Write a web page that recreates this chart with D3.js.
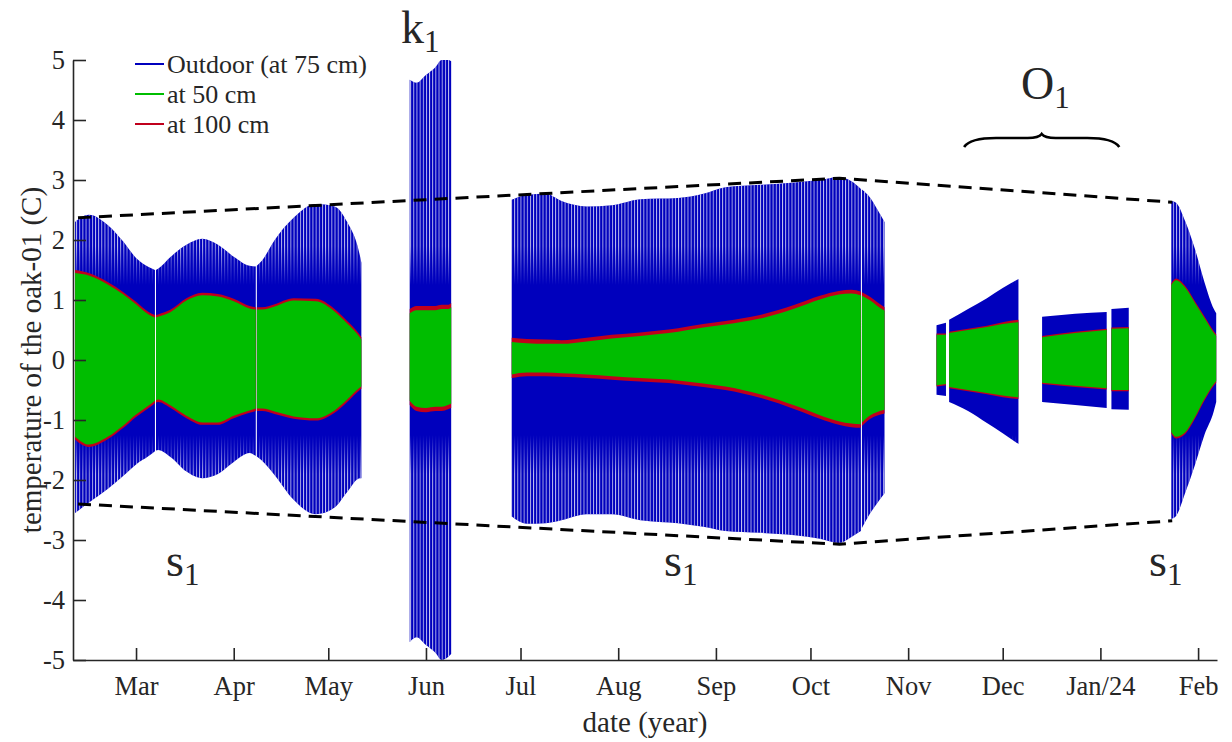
<!DOCTYPE html>
<html>
<head>
<meta charset="utf-8">
<script src="https://cdn.jsdelivr.net/npm/d3@7"></script>
<style>
  body { margin: 0; background: #fff; }
  svg text { font-family: "Liberation Serif", "Times New Roman", serif; fill: #262626; }
</style>
</head>
<body>
<div id="chart"></div>
<script>
// Oak-01 stem temperature, envelopes of the daily oscillation
// null rows split the record into its measured pieces

const dates = [
  // s1, Feb - May
  "2023-02-09T16:00", "2023-02-14", "2023-02-20", "2023-02-25", "2023-03-01", "2023-03-05", "2023-03-07", null,
  "2023-03-07T08:00", "2023-03-08", "2023-03-12", "2023-03-17", "2023-03-22", "2023-03-27", "2023-04-01", "2023-04-06", "2023-04-08", null,
  "2023-04-08T08:00", "2023-04-10", "2023-04-14", "2023-04-20", "2023-04-27", "2023-05-03", "2023-05-07", "2023-05-11", "2023-05-11T12:00", null,
  // k1, June
  "2023-05-26T20:00", "2023-05-29", "2023-06-01", "2023-06-04", "2023-06-06", "2023-06-08", "2023-06-09", null,
  // s1, Jul - Oct
  "2023-06-28T05:00", "2023-07-03", "2023-07-09", "2023-07-14", "2023-07-22", "2023-07-30", "2023-08-08", "2023-08-20",
  "2023-08-28", "2023-09-04", "2023-09-15", "2023-09-26", "2023-10-04", "2023-10-10", "2023-10-14", "2023-10-17", null,
  "2023-10-17T08:00", "2023-10-20", "2023-10-22", "2023-10-24T12:00", null,
  // O1, Nov - Jan
  "2023-11-10", "2023-11-13", null,
  "2023-11-14", "2023-11-20", "2023-11-26", "2023-12-01", "2023-12-06", null,
  "2023-12-13T12:00", "2023-12-24", "2024-01-03", null,
  "2024-01-04T12:00", "2024-01-10", null,
  // s1, Jan - Feb
  "2024-01-23T12:00", "2024-01-25", "2024-01-28", "2024-01-31", "2024-02-03", "2024-02-06", "2024-02-06T18:00"
];

const outdoorHigh = [
  2.30, 2.42, 2.25, 1.97, 1.70, 1.55, 1.50, null,
  1.50, 1.52, 1.72, 1.92, 2.02, 1.92, 1.72, 1.57, 1.56, null,
  1.57, 1.66, 2.00, 2.37, 2.60, 2.56, 2.30, 1.75, 1.62, null,
  4.67, 4.62, 4.75, 4.88, 5.00, 5.00, 4.98, null,
  2.67, 2.75, 2.77, 2.65, 2.56, 2.58, 2.68, 2.70,
  2.77, 2.88, 2.92, 2.96, 3.00, 3.05, 2.98, 2.85, null,
  2.84, 2.70, 2.53, 2.30, null,
  0.58, 0.62, null,
  0.67, 0.85, 1.03, 1.20, 1.35, null,
  0.72, 0.77, 0.80, null,
  0.85, 0.87, null,
  2.65, 2.62, 2.30, 1.85, 1.30, 0.85, 0.78
];
const outdoorLow = [
  -2.55, -2.38, -2.15, -1.93, -1.74, -1.60, -1.52, null,
  -1.51, -1.50, -1.62, -1.86, -1.97, -1.90, -1.70, -1.55, -1.60, null,
  -1.61, -1.68, -1.92, -2.33, -2.57, -2.46, -2.20, -1.97, -1.97, null,
  -4.70, -4.62, -4.75, -4.88, -5.00, -4.95, -4.90, null,
  -2.61, -2.73, -2.72, -2.67, -2.57, -2.57, -2.67, -2.72,
  -2.78, -2.85, -2.88, -2.92, -2.98, -3.05, -2.95, -2.85, null,
  -2.80, -2.55, -2.40, -2.22, null,
  -0.58, -0.60, null,
  -0.70, -0.85, -1.05, -1.22, -1.40, null,
  -0.70, -0.75, -0.80, null,
  -0.82, -0.83, null,
  -2.65, -2.60, -2.20, -1.75, -1.25, -0.85, -0.70
];
const deep100High = [
  1.50, 1.45, 1.30, 1.13, 0.97, 0.80, 0.75, null,
  0.75, 0.76, 0.84, 1.03, 1.12, 1.10, 1.02, 0.90, 0.88, null,
  0.88, 0.88, 0.93, 1.03, 1.02, 0.85, 0.65, 0.42, 0.38, null,
  0.85, 0.90, 0.90, 0.90, 0.92, 0.92, 0.95, null,
  0.37, 0.35, 0.34, 0.33, 0.37, 0.42, 0.46, 0.53,
  0.60, 0.65, 0.75, 0.92, 1.07, 1.15, 1.17, 1.14, null,
  1.13, 1.05, 0.97, 0.88, null,
  0.44, 0.44, null,
  0.47, 0.52, 0.57, 0.63, 0.67, null,
  0.40, 0.47, 0.52, null,
  0.54, 0.55, null,
  1.28, 1.36, 1.23, 0.98, 0.73, 0.48, 0.43
];
const deep100Low = [
  -1.33, -1.45, -1.32, -1.13, -0.95, -0.80, -0.72, null,
  -0.71, -0.70, -0.80, -0.97, -1.08, -1.08, -0.97, -0.88, -0.85, null,
  -0.85, -0.85, -0.90, -0.98, -1.01, -0.88, -0.70, -0.50, -0.48, null,
  -0.75, -0.85, -0.87, -0.85, -0.85, -0.82, -0.80, null,
  -0.30, -0.27, -0.27, -0.28, -0.30, -0.33, -0.36, -0.40,
  -0.45, -0.50, -0.63, -0.82, -0.98, -1.08, -1.12, -1.13, null,
  -1.10, -0.98, -0.93, -0.89, null,
  -0.44, -0.42, null,
  -0.47, -0.52, -0.57, -0.62, -0.65, null,
  -0.40, -0.45, -0.49, null,
  -0.52, -0.52, null,
  -1.23, -1.31, -1.23, -0.98, -0.68, -0.43, -0.38
];
const deep50High = [
  1.45, 1.41, 1.26, 1.09, 0.93, 0.76, 0.71, null,
  0.71, 0.72, 0.80, 0.99, 1.08, 1.06, 0.98, 0.86, 0.84, null,
  0.84, 0.84, 0.89, 0.99, 0.98, 0.81, 0.61, 0.38, 0.34, null,
  0.78, 0.83, 0.83, 0.83, 0.85, 0.85, 0.88, null,
  0.30, 0.28, 0.27, 0.27, 0.31, 0.36, 0.40, 0.47,
  0.54, 0.59, 0.69, 0.86, 1.01, 1.09, 1.11, 1.08, null,
  1.07, 0.99, 0.91, 0.82, null,
  0.42, 0.42, null,
  0.45, 0.50, 0.55, 0.60, 0.63, null,
  0.38, 0.45, 0.50, null,
  0.52, 0.53, null,
  1.25, 1.33, 1.20, 0.95, 0.70, 0.45, 0.40
];
const deep50Low = [
  -1.28, -1.41, -1.28, -1.09, -0.91, -0.76, -0.68, null,
  -0.67, -0.66, -0.76, -0.93, -1.04, -1.04, -0.93, -0.84, -0.81, null,
  -0.81, -0.81, -0.86, -0.94, -0.97, -0.84, -0.66, -0.46, -0.44, null,
  -0.68, -0.78, -0.80, -0.78, -0.78, -0.75, -0.73, null,
  -0.24, -0.21, -0.21, -0.22, -0.24, -0.27, -0.30, -0.34,
  -0.39, -0.44, -0.57, -0.76, -0.92, -1.02, -1.06, -1.07, null,
  -1.04, -0.92, -0.87, -0.83, null,
  -0.42, -0.40, null,
  -0.45, -0.50, -0.55, -0.59, -0.62, null,
  -0.38, -0.43, -0.47, null,
  -0.50, -0.50, null,
  -1.20, -1.28, -1.20, -0.95, -0.65, -0.40, -0.35
];

// x axis
const monthTicks = ["2023-03-01", "2023-04-01", "2023-05-01", "2023-06-01", "2023-07-01", "2023-08-01",
  "2023-09-01", "2023-10-01", "2023-11-01", "2023-12-01", "2024-01-01", "2024-02-01"];
const monthLabels = ["Mar", "Apr", "May", "Jun", "Jul", "Aug", "Sep", "Oct", "Nov", "Dec", "Jan/24", "Feb"];
const yTicks = [-5, -4, -3, -2, -1, 0, 1, 2, 3, 4, 5];

// series names and legend
const seriesNames = ["Outdoor (at 75 cm)", "at 50 cm", "at 100 cm"];
const seriesColors = ["#0000bd", "#00bd00", "#c0001c"];

// dashed envelope guide (date, value)
const guideDates = ["2023-02-10T14:00", "2023-10-10T05:00", "2024-01-23T19:00"];
const guideUpper = [2.37, 3.03, 2.63];
const guideLower = [-2.40, -3.07, -2.68];

// brace over the O1 period
const braceDates = ["2023-11-18T18:00", "2024-01-07T00:00"];
const braceLevel = 3.55;

const parse = s => new Date(s.length === 10 ? s + "T00:00" : s);

const width = 1232, height = 742;
const plot = { left: 73, right: 1217, top: 60, bottom: 660 };

const svg = d3.select('#chart')
  .append('svg')
  .attr('width', width)
  .attr('height', height);

const xScale = d3.scaleTime()
  .domain([new Date(2023, 1, 9), new Date(2024, 1, 7)])
  .range([plot.left, plot.right]);

const yScale = d3.scaleLinear()
  .domain([-5, 5])
  .range([plot.bottom, plot.top]);

const rows = dates.map((d, i) => ({
  date: d ? parse(d) : null,
  bh: outdoorHigh[i], bl: outdoorLow[i],
  rh: deep100High[i], rl: deep100Low[i],
  gh: deep50High[i], gl: deep50Low[i]
}));

const band = (hi, lo) => d3.area()
  .defined(d => d.date !== null)
  .x(d => xScale(d.date))
  .y0(d => yScale(d[lo]))
  .y1(d => yScale(d[hi]))
  .curve(d3.curveMonotoneX);

// daily stripe texture on the outer part of the outdoor band
const defs = svg.append('defs');
const dayPx = xScale(new Date(2023, 5, 2)) - xScale(new Date(2023, 5, 1));
const grad = defs.append('linearGradient')
  .attr('id', 'fade')
  .attr('gradientUnits', 'userSpaceOnUse')
  .attr('x1', 0).attr('y1', 0).attr('x2', 0).attr('y2', height);
[[5, 0.8], [1.9, 0.75], [1.25, 0], [-1.25, 0], [-1.9, 0.75], [-5, 0.8]].forEach(([v, o]) => {
  grad.append('stop')
    .attr('offset', yScale(v) / height)
    .attr('stop-color', '#fff')
    .attr('stop-opacity', o);
});
const pat = defs.append('pattern')
  .attr('id', 'days')
  .attr('patternUnits', 'userSpaceOnUse')
  .attr('x', xScale(new Date(2023, 1, 10)))
  .attr('y', 0)
  .attr('width', dayPx)
  .attr('height', height);
pat.append('rect')
  .attr('x', 0).attr('y', 0)
  .attr('width', 0.9).attr('height', height)
  .attr('fill', 'url(#fade)');

const g = svg.append('g');

g.append('path')
  .datum(rows)
  .attr('d', band('bh', 'bl'))
  .attr('fill', seriesColors[0]);

g.append('path')
  .datum(rows)
  .attr('d', band('bh', 'bl'))
  .attr('fill', 'url(#days)');

g.append('path')
  .datum(rows)
  .attr('d', band('rh', 'rl'))
  .attr('fill', seriesColors[2]);

g.append('path')
  .datum(rows)
  .attr('d', band('gh', 'gl'))
  .attr('fill', seriesColors[1]);

// dashed guides
const guideLine = d3.line()
  .x(d => xScale(parse(d[0])))
  .y(d => yScale(d[1]));

[guideUpper, guideLower].forEach(vals => {
  svg.append('path')
    .attr('d', guideLine(guideDates.map((d, i) => [d, vals[i]])))
    .attr('fill', 'none')
    .attr('stroke', '#000')
    .attr('stroke-width', 3)
    .attr('stroke-dasharray', '13,8');
});

// axes
const xAxis = d3.axisBottom(xScale)
  .tickValues(monthTicks.map(parse))
  .tickFormat((d, i) => monthLabels[i])
  .tickSizeInner(-12)
  .tickSizeOuter(0)
  .tickPadding(16);

const yAxis = d3.axisLeft(yScale)
  .tickValues(yTicks)
  .tickFormat(d => String(d))
  .tickSizeInner(-13)
  .tickSizeOuter(0)
  .tickPadding(8);

const xg = svg.append('g')
  .attr('transform', `translate(0, ${plot.bottom})`)
  .call(xAxis);

const yg = svg.append('g')
  .attr('transform', `translate(${plot.left}, 0)`)
  .call(yAxis);

[xg, yg].forEach(a => {
  a.attr('font-family', null);
  a.selectAll('path, line').attr('stroke', '#262626').attr('stroke-width', 1.6);
  a.selectAll('text')
    .style('font-family', '"Liberation Serif", serif')
    .style('font-size', '26.5px')
    .attr('fill', '#262626');
});

// axis labels
svg.append('text')
  .attr('x', (plot.left + plot.right) / 2)
  .attr('y', 732)
  .attr('text-anchor', 'middle')
  .style('font-size', '29px')
  .text('date (year)');

svg.append('text')
  .attr('transform', `translate(41, ${(plot.top + plot.bottom) / 2}) rotate(-90)`)
  .attr('text-anchor', 'middle')
  .style('font-size', '29px')
  .text('temperature of the oak-01 (C)');

// legend
const legend = svg.append('g');
seriesNames.forEach((name, i) => {
  const ly = 64 + i * 30;
  legend.append('line')
    .attr('x1', 135).attr('x2', 164)
    .attr('y1', ly).attr('y2', ly)
    .attr('stroke', seriesColors[i])
    .attr('stroke-width', 2);
  legend.append('text')
    .attr('x', 167)
    .attr('y', ly + 9)
    .style('font-size', '26px')
    .attr('fill', '#000')
    .text(name);
});

// mode labels with subscripts
const modeLabels = [
  { t: 'k', x: 401, y: 43 },
  { t: 'O', x: 1021, y: 99 },
  { t: 's', x: 166, y: 576 },
  { t: 's', x: 664, y: 576 },
  { t: 's', x: 1149, y: 576 }
];
modeLabels.forEach(m => {
  const t = svg.append('text')
    .attr('x', m.x)
    .attr('y', m.y)
    .style('font-size', '46px')
    .attr('fill', '#000')
    .text(m.t);
  t.append('tspan')
    .attr('dy', 9)
    .style('font-size', '31px')
    .text('1');
});

// curly brace
const bx1 = xScale(parse(braceDates[0]));
const bx2 = xScale(parse(braceDates[1]));
const by = yScale(braceLevel);
const bm = (bx1 + bx2) / 2;
svg.append('path')
  .attr('d', `M${bx1},${by} Q${bx1 + 6},${by - 9} ${bx1 + 32},${by - 9} L${bm - 14},${by - 9} ` +
    `Q${bm - 3},${by - 9} ${bm},${by - 13} Q${bm + 3},${by - 9} ${bm + 14},${by - 9} ` +
    `L${bx2 - 32},${by - 9} Q${bx2 - 6},${by - 9} ${bx2},${by}`)
  .attr('fill', 'none')
  .attr('stroke', '#000')
  .attr('stroke-width', 2.6);
</script>
</body>
</html>
